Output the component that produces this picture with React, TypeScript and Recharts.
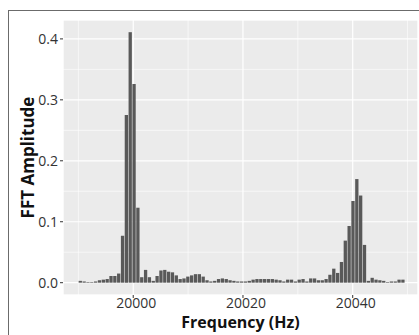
import React from 'react';
import { BarChart, Bar, XAxis, YAxis, CartesianGrid, Label } from 'recharts';

const frequencies = [
  19990.4, 19991.1, 19991.8, 19992.5, 19993.2, 19993.9, 19994.6, 19995.3, 19996.0, 19996.7,
  19997.4, 19998.1, 19998.8, 19999.5, 20000.2, 20000.9, 20001.6, 20002.3, 20003.0, 20003.7,
  20004.4, 20005.1, 20005.8, 20006.5, 20007.2, 20007.9, 20008.6, 20009.3, 20010.0, 20010.7,
  20011.4, 20012.1, 20012.8, 20013.5, 20014.2, 20014.9, 20015.6, 20016.3, 20017.0, 20017.7,
  20018.4, 20019.1, 20019.8, 20020.5, 20021.2, 20021.9, 20022.6, 20023.3, 20024.0, 20024.7,
  20025.4, 20026.1, 20026.8, 20027.5, 20028.2, 20028.9, 20029.6, 20030.3, 20031.0, 20031.7,
  20032.4, 20033.1, 20033.8, 20034.5, 20035.2, 20035.9, 20036.6, 20037.3, 20038.0, 20038.7,
  20039.4, 20040.1, 20040.8, 20041.5, 20042.2, 20042.9, 20043.6, 20044.3, 20045.0, 20045.7,
  20046.4, 20047.1, 20047.8, 20048.5, 20049.2,
];

const amplitudes = [
  0.003, 0.002, 0.001, 0.001, 0.002, 0.004, 0.005, 0.006, 0.011, 0.011,
  0.015, 0.077, 0.275, 0.411, 0.326, 0.123, 0.009, 0.021, 0.009, 0.003,
  0.011, 0.020, 0.021, 0.018, 0.017, 0.012, 0.006, 0.007, 0.010, 0.012,
  0.014, 0.014, 0.010, 0.004, 0.002, 0.003, 0.006, 0.007, 0.006, 0.004,
  0.003, 0.002, 0.002, 0.002, 0.003, 0.005, 0.006, 0.006, 0.006, 0.006,
  0.006, 0.005, 0.004, 0.002, 0.005, 0.005, 0.002, 0.005, 0.006, 0.002,
  0.007, 0.007, 0.004, 0.004, 0.006, 0.013, 0.023, 0.016, 0.034, 0.069,
  0.093, 0.134, 0.170, 0.143, 0.062, 0.003, 0.008, 0.005, 0.004, 0.003,
  0.001, 0.002, 0.002, 0.005, 0.005,
];

const xTicks = [20000, 20020, 20040];
const xMinorTicks = [19990, 20010, 20030, 20050];
const yTicks = [0, 0.1, 0.2, 0.3, 0.4];
const yMinorTicks = [0.05, 0.15, 0.25, 0.35];
const xDomain: [number, number] = [19987.2, 20051.9];
const yDomain: [number, number] = [-0.0202, 0.431];

const data = frequencies.map((f, i) => ({ f, a: amplitudes[i] }));

const FONT = '"Open Sans", "Noto Sans", sans-serif';

export default function App() {
  return (
    <div style={{ position: 'fixed', left: 0, top: 0, width: 419, height: 335, overflow: 'hidden', background: '#fff' }}>
      <div style={{ position: 'absolute', left: 8, top: 10, width: 430, height: 340, border: '1.5px solid #6b6b6b', boxSizing: 'border-box' }} />
      <div style={{ position: 'absolute', left: 0, top: 0 }}>
        <BarChart width={419} height={335} data={data} margin={{ top: 20, right: 1, bottom: 0, left: 0 }}>
          <XAxis xAxisId="minor" type="number" dataKey="f" domain={xDomain} ticks={xMinorTicks} hide allowDataOverflow />
          <YAxis yAxisId="minor" type="number" domain={yDomain} ticks={yMinorTicks} hide allowDataOverflow />
          <CartesianGrid xAxisId="minor" yAxisId="minor" fill="#EBEBEB" stroke="#ffffff" strokeWidth={0.6} />
          <CartesianGrid stroke="#ffffff" strokeWidth={1.2} />
          <XAxis
            type="number"
            dataKey="f"
            domain={xDomain}
            ticks={xTicks}
            allowDataOverflow
            height={40}
            axisLine={false}
            tickLine={{ stroke: '#333' }}
            tickSize={3}
            tickMargin={0}
            tick={{ fill: '#333', fontSize: 14, fontFamily: FONT, dx: 3 }}
            tickFormatter={(v: number) => String(v)}
          >
            <Label
              content={(p: any) => {
                const vb = p.viewBox || {};
                return (
                  <text x={vb.x + vb.width / 2} y={vb.y + 33} textAnchor="middle" fontFamily={FONT} fontWeight="bold" fontSize={16} fill="#111">
                    Frequency (Hz)
                  </text>
                );
              }}
            />
          </XAxis>
          <YAxis
            type="number"
            domain={yDomain}
            ticks={yTicks}
            allowDataOverflow
            width={63}
            axisLine={false}
            tickLine={{ stroke: '#333' }}
            tickSize={3}
            tickMargin={2}
            tick={{ fill: '#333', fontSize: 14, fontFamily: FONT }}
            tickFormatter={(v: number) => v.toFixed(1)}
          >
            <Label
              content={(p: any) => {
                const vb = p.viewBox || {};
                const cx = 27;
                const cy = vb.y + vb.height / 2;
                return (
                  <text x={cx} y={cy} transform={`rotate(-90, ${cx}, ${cy})`} textAnchor="middle" dominantBaseline="central" fontFamily={FONT} fontWeight="bold" fontSize={17} fill="#111">
                    FFT Amplitude
                  </text>
                );
              }}
            />
          </YAxis>
          <Bar dataKey="a" fill="#595959" barSize={3.3} isAnimationActive={false} />
        </BarChart>
      </div>
    </div>
  );
}
